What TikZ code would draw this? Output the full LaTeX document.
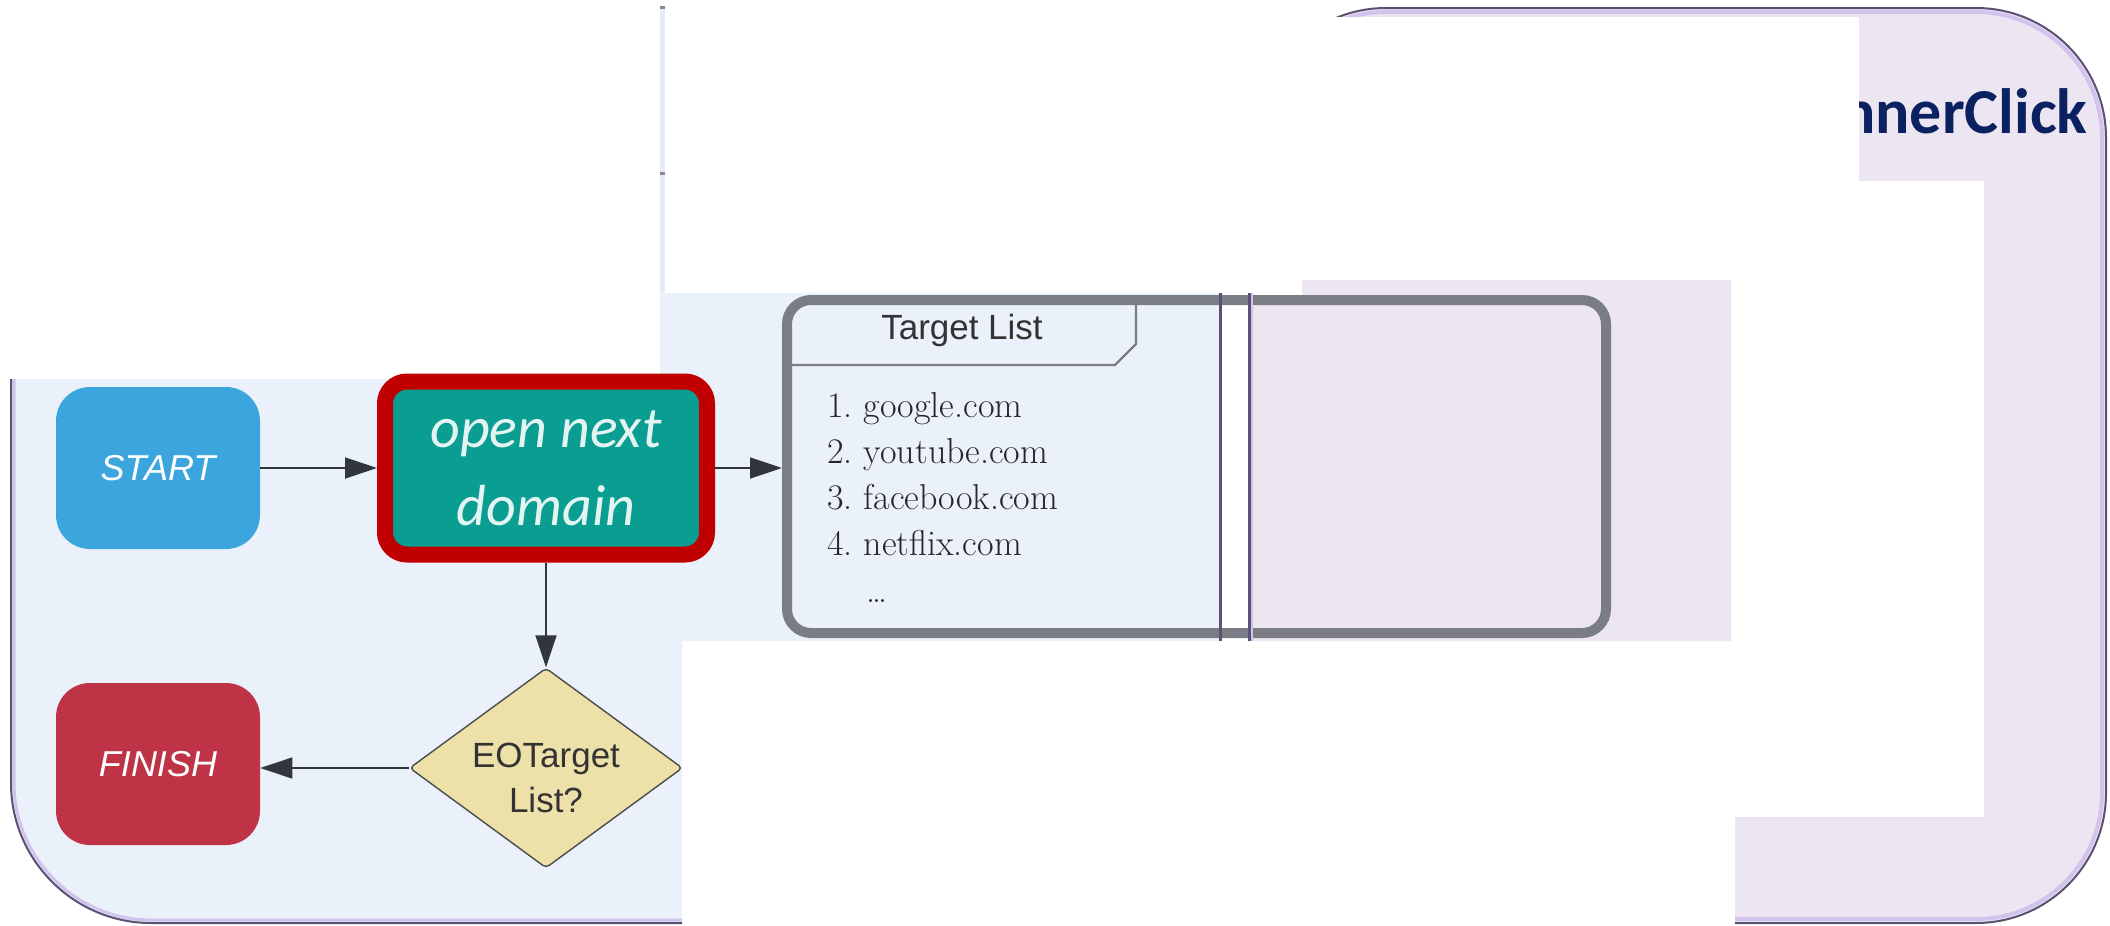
\documentclass[tikz,border=0pt]{standalone}
\usepackage{fontspec}
\usetikzlibrary{shapes.geometric,arrows.meta}

\newfontfamily\flowfont{Liberation Sans}
\newfontfamily\slidefont{Carlito}

\definecolor{panelblue}{HTML}{EAF1FA}
\definecolor{panelpurple}{HTML}{ECE6F3}
\definecolor{stripblue}{HTML}{E4ECF6}
\definecolor{rimdark}{HTML}{5A5272}
\definecolor{rimglow}{HTML}{D3C3EC}
\definecolor{startblue}{HTML}{3DA5DE}
\definecolor{stepteal}{HTML}{0A9E92}
\definecolor{tealtext}{HTML}{E4F4F2}
\definecolor{hilite}{HTML}{C00000}
\definecolor{finishred}{HTML}{BE3446}
\definecolor{decisionfill}{HTML}{EDE1A9}
\definecolor{flowline}{HTML}{30363C}
\definecolor{listrim}{HTML}{7A7D85}
\definecolor{titlenavy}{HTML}{0B2160}

\tikzset{
  terminal/.style={rectangle, rounded corners=17pt, minimum width=102pt, minimum height=81pt,
    inner sep=0pt, text=white, font=\flowfont\itshape\fontsize{18}{22}\selectfont},
  process/.style={rectangle, rounded corners=11pt, draw=hilite, line width=8pt, fill=stepteal,
    minimum width=161pt, minimum height=86.5pt, inner sep=0pt, align=center, text=tealtext,
    font=\slidefont\itshape\fontsize{29}{39}\selectfont},
  decision/.style={diamond, aspect=1.365, minimum width=136.5pt, minimum height=100pt, inner sep=0pt,
    draw=black!70, line width=0.7pt, fill=decisionfill, rounded corners=2pt},
  decisiontext/.style={align=center, inner sep=0pt, yshift=-5pt, text=black!80,
    font=\flowfont\fontsize{17.5}{22.5}\selectfont},
  listbox/.style={rectangle, draw=listrim, line width=5pt, rounded corners=12pt,
    minimum width=409.5pt, minimum height=166.5pt, inner sep=0pt},
  site/.style={anchor=base west, inner sep=0pt, text=black!85, font=\fontsize{18}{22}\selectfont},
  flow/.style={draw=flowline, line width=0.9pt, ->},
  seam/.style={draw=rimdark, line width=1.5pt}
}

\begin{document}
\begin{tikzpicture}[x=0.5pt, y=-0.5pt, >={Triangle[length=16pt,width=10.5pt]}]
\useasboundingbox (0,0) rectangle (2110,926);
%slide frame
\fill[panelpurple, rounded corners=65pt] (1256,8) rectangle (2106,923);
\draw[rimglow, line width=2pt, rounded corners=63pt] (1260,12) rectangle (2102,919);
\draw[rimdark, line width=1pt, rounded corners=65pt] (1256,8) rectangle (2106,923);
\node[anchor=base east, inner sep=0pt, text=titlenavy,
  font=\slidefont\bfseries\fontsize{32}{38}\selectfont] (title) at (2088,133) {nnerClick};
%white cut-outs
\fill[white] (1250,17) rectangle (1859,181);
\fill[white] (1250,181) rectangle (1984,817);
\fill[white] (1250,641) rectangle (1735,926);
%flowchart panel
\fill[panelblue] (11,379) -- (660,379) -- (660,293) -- (1220,293) -- (1220,641) -- (682,641)
  -- (682,923) -- (151,923) .. controls (74,923) and (11,860) .. (11,783) -- cycle;
\draw[rimglow, line width=1.5pt] (14,379) -- (14,783) .. controls (14,858) and (76,920) .. (151,920) -- (682,920);
\draw[rimdark, line width=1pt] (11,379) -- (11,783) .. controls (11,860) and (74,923) .. (151,923) -- (682,923);
%purple patch under the list
\fill[panelpurple] (1250,295) -- (1302,295) -- (1302,280) -- (1731,280) -- (1731,641) -- (1250,641) -- cycle;
%thin strip at the top
\fill[stripblue] (660,7) rectangle (665,293);
\fill[rimdark!70] (660,6) rectangle (665,9);
\fill[rimdark!70] (660,172) rectangle (665,175);

%steps
\node[terminal, fill=startblue] (start) at (158,468) {START};
\node[process] (open) at (546,468) {open next\\domain};
\node[decision, label={[decisiontext]center:EOTarget\\List?}] (check) at (546,768) {};
\node[terminal, fill=finishred] (finish) at (158,764) {FINISH};

%target list
\node[listbox] (tlist) at (1196.5,466.5) {};
\draw[listrim, line width=1.2pt] (787,365) -- (1115,365) -- (1136,344) -- (1136,300);
\node[text=black!80, font=\flowfont\fontsize{17.5}{21}\selectfont] (tlisthead) at (962,330) {Target List};
\node[site] (site1) at (827,417) {1.~google.com};
\node[site] (site2) at (827,463) {2.~youtube.com};
\node[site] (site3) at (827,509) {3.~facebook.com};
\node[site] (site4) at (827,555) {4.~netflix.com};
\node[site] (more) at (866,602) {\ldots};

%arrows
\draw[flow] (start.east) -- (start.east -| open.west);
\draw[flow] (open.east) -- (open.east -| tlist.west);
\draw[flow] (open.south) -- (check.north);
\draw[flow] (check.west) -- (check.west -| finish.east);

%seams
\draw[seam] (1220,293) -- (1220,641);
\draw[rimglow, line width=1pt] (1252,293) -- (1252,641);
\draw[seam] (1249,293) -- (1249,641);
\end{tikzpicture}
\end{document}
